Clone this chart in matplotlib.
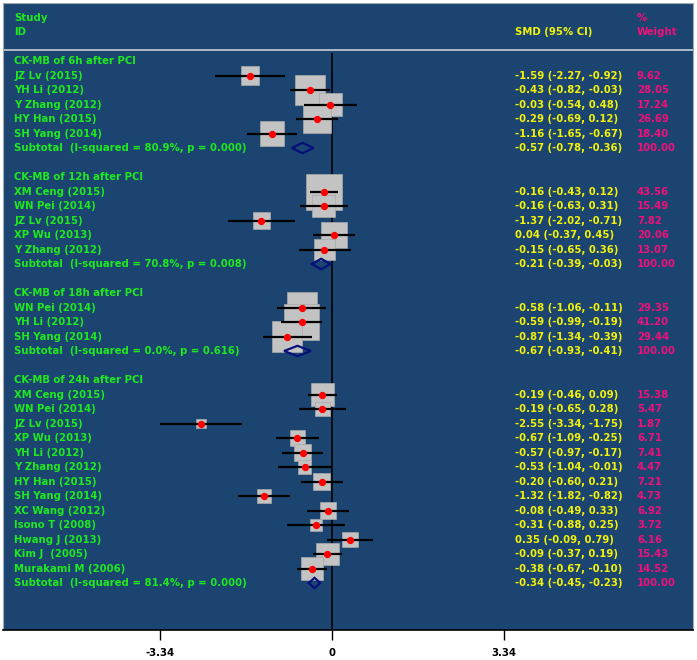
import numpy as np
import matplotlib
matplotlib.use('Agg')
import matplotlib.pyplot as plt

plt.rcParams['font.family'] = ['DejaVu Sans']
plt.rcParams['font.weight'] = 'bold'

# ---- data ----
groups = ["CK-MB of 6h after PCI", "CK-MB of 12h after PCI",
          "CK-MB of 18h after PCI", "CK-MB of 24h after PCI"]

studies = [
    ["JZ Lv (2015)", "YH Li (2012)", "Y Zhang (2012)", "HY Han (2015)", "SH Yang (2014)"],
    ["XM Ceng (2015)", "WN Pei (2014)", "JZ Lv (2015)", "XP Wu (2013)", "Y Zhang (2012)"],
    ["WN Pei (2014)", "YH Li (2012)", "SH Yang (2014)"],
    ["XM Ceng (2015)", "WN Pei (2014)", "JZ Lv (2015)", "XP Wu (2013)", "YH Li (2012)",
     "Y Zhang (2012)", "HY Han (2015)", "SH Yang (2014)", "XC Wang (2012)", "Isono T (2008)",
     "Hwang J (2013)", "Kim J  (2005)", "Murakami M (2006)"],
]
smd = [
    [-1.59, -0.43, -0.03, -0.29, -1.16],
    [-0.16, -0.16, -1.37, 0.04, -0.15],
    [-0.58, -0.59, -0.87],
    [-0.19, -0.19, -2.55, -0.67, -0.57, -0.53, -0.20, -1.32, -0.08, -0.31, 0.35, -0.09, -0.38],
]
lo = [
    [-2.27, -0.82, -0.54, -0.69, -1.65],
    [-0.43, -0.63, -2.02, -0.37, -0.65],
    [-1.06, -0.99, -1.34],
    [-0.46, -0.65, -3.34, -1.09, -0.97, -1.04, -0.60, -1.82, -0.49, -0.88, -0.09, -0.37, -0.67],
]
hi = [
    [-0.92, -0.03, 0.48, 0.12, -0.67],
    [0.12, 0.31, -0.71, 0.45, 0.36],
    [-0.11, -0.19, -0.39],
    [0.09, 0.28, -1.75, -0.25, -0.17, -0.01, 0.21, -0.82, 0.33, 0.25, 0.79, 0.19, -0.10],
]
weight = [
    [9.62, 28.05, 17.24, 26.69, 18.40],
    [43.56, 15.49, 7.82, 20.06, 13.07],
    [29.35, 41.20, 29.44],
    [15.38, 5.47, 1.87, 6.71, 7.41, 4.47, 7.21, 4.73, 6.92, 3.72, 6.16, 15.43, 14.52],
]
sub_label = ["Subtotal  (I-squared = 80.9%, p = 0.000)",
             "Subtotal  (I-squared = 70.8%, p = 0.008)",
             "Subtotal  (I-squared = 0.0%, p = 0.616)",
             "Subtotal  (I-squared = 81.4%, p = 0.000)"]
sub_smd = [-0.57, -0.21, -0.67, -0.34]
sub_lo = [-0.78, -0.39, -0.93, -0.45]
sub_hi = [-0.36, -0.03, -0.41, -0.23]
xticks = [-3.34, 0, 3.34]

# ---- colours ----
BG = '#1b4570'
GREEN = '#1fe81f'
YELLOW = '#f2f20a'
PINK = '#f0107a'

fig = plt.figure(figsize=(6.97, 6.60), dpi=100)
ax = fig.add_axes([3/697, 30/660, 690/697, 627/660])
ax.set_facecolor(BG)
ax.set_xlim((3 - 332) / 51.5, (693 - 332) / 51.5)
ax.set_ylim(39.24, -4.0)

xl, xs, xw = -6.17, 3.55, 5.92
fs = 7.3

ax.text(xl, -3.0, "Study", color=GREEN, fontsize=fs, va='center')
ax.text(xl, -2.0, "ID", color=GREEN, fontsize=fs, va='center')
ax.text(xs, -2.0, "SMD (95% CI)", color=YELLOW, fontsize=fs, va='center')
ax.text(xw, -3.0, "%", color=PINK, fontsize=fs, va='center')
ax.text(xw, -2.0, "Weight", color=PINK, fontsize=fs, va='center')
ax.axhline(-0.76, color='#c6ced8', lw=1.2)

ax.vlines(0, -0.55, 39.24, color='black', lw=1.2, zorder=2)

row = 0
ys, xs_pt, los, his, ws = [], [], [], [], []
for g in range(len(groups)):
    ax.text(xl, row, groups[g], color=GREEN, fontsize=fs, va='center')
    row += 1
    for i in range(len(studies[g])):
        ax.text(xl, row, studies[g][i], color=GREEN, fontsize=fs, va='center')
        ax.text(xs, row, "%.2f (%.2f, %.2f)" % (smd[g][i], lo[g][i], hi[g][i]),
                color=YELLOW, fontsize=fs, va='center')
        ax.text(xw, row, "%.2f" % weight[g][i], color=PINK, fontsize=fs, va='center')
        ys.append(row); xs_pt.append(smd[g][i]); los.append(lo[g][i])
        his.append(hi[g][i]); ws.append(weight[g][i])
        row += 1
    ax.text(xl, row, sub_label[g], color=GREEN, fontsize=fs, va='center')
    ax.text(xs, row, "%.2f (%.2f, %.2f)" % (sub_smd[g], sub_lo[g], sub_hi[g]),
            color=YELLOW, fontsize=fs, va='center')
    ax.text(xw, row, "100.00", color=PINK, fontsize=fs, va='center')
    h = 0.36
    ax.fill([sub_lo[g], sub_smd[g], sub_hi[g], sub_smd[g]],
            [row, row - h, row, row + h], facecolor='none',
            edgecolor='#05107a', lw=1.6, zorder=4)
    row += 2

ws = np.array(ws)
side = (3 + 5 * np.sqrt(ws)) * 0.72
ax.scatter(xs_pt, ys, s=side ** 2, marker='s', color='#c3c3c3',
           edgecolors='#a8a8a8', linewidths=0.5, zorder=3)
ax.hlines(ys, los, his, color='black', lw=1.6, zorder=5)
ax.scatter(xs_pt, ys, s=18, marker='o', color='#ff0000', zorder=6)

ax.set_yticks([])
ax.set_xticks(xticks)
ax.set_xticklabels(["-3.34", "0", "3.34"], fontsize=fs, fontweight='bold')
ax.tick_params(axis='x', direction='out', length=7, width=1, pad=6, colors='black')
for s in ['top', 'left', 'right']:
    ax.spines[s].set_color('#a0a8b0')
    ax.spines[s].set_linewidth(0.8)
ax.spines['bottom'].set_color('black')
ax.spines['bottom'].set_linewidth(1.2)

fig.savefig('out.png', dpi=100, facecolor='white')
